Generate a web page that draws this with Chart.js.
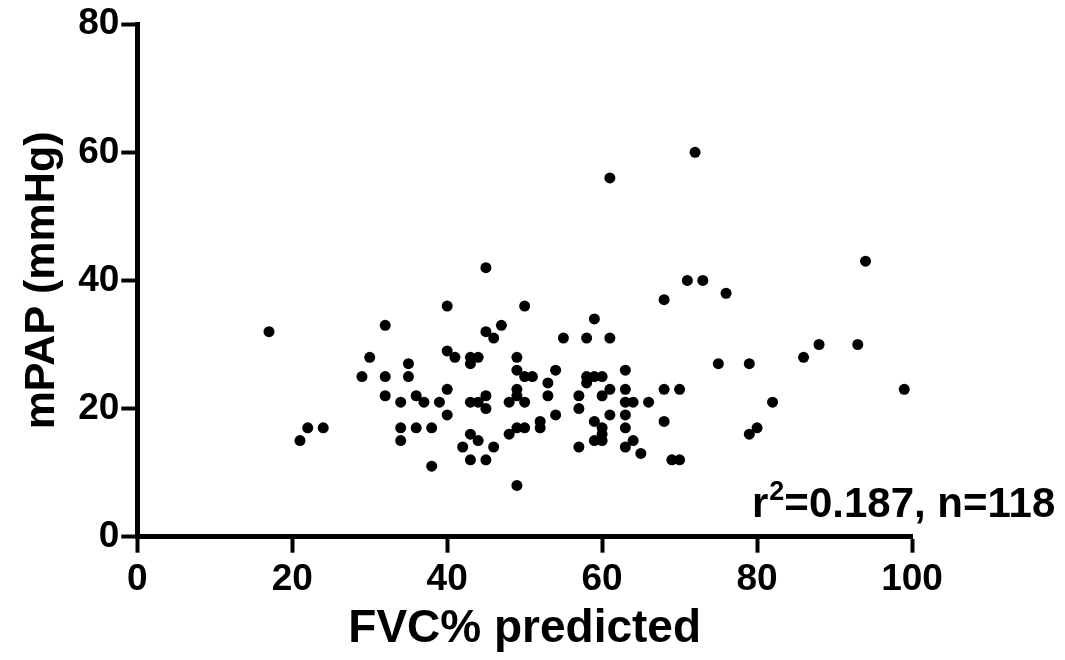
<!DOCTYPE html>
<html>
<head>
<meta charset="utf-8">
<script src="https://cdn.jsdelivr.net/npm/chart.js@4"></script>
<style>
  html, body { margin: 0; padding: 0; background: #ffffff; }
  #wrap { width: 1065px; height: 660px; }
</style>
</head>
<body>
<div id="wrap"><canvas id="c" width="1065" height="660"></canvas></div>
<script>
// FVC% predicted (x) and mPAP in mmHg (y)
const fvcPredicted = [
  17, 32, 40, 40, 30, 35, 29, 32, 35, 40, 32, 34, 36, 37, 39, 40, 22, 24, 21, 34, 36, 38, 34, 38,
  45, 50, 59, 47, 45, 46, 55, 58, 61, 41, 43, 44, 43, 49, 49, 50, 51, 54, 53, 53, 58, 59, 60, 58,
  61, 60, 57, 57, 63, 63, 63, 64, 63, 63, 63, 64, 65, 45, 43, 44, 45, 49, 49, 48, 50, 54, 52, 52,
  50, 49, 48, 43, 44, 42, 46, 43, 45, 49, 59, 60, 60, 59, 60, 57, 61,
  61, 72, 94, 88, 86, 93, 99,
  71, 73, 68, 76, 75, 79, 68, 70, 66, 82, 68, 80, 79, 69, 70
];
const mPAP = [
  32, 33, 36, 29, 28, 27, 25, 25, 25, 23, 22, 21, 22, 21, 21, 19, 17, 17, 15, 17, 17, 17, 15, 11,
  42, 36, 34, 33, 32, 31, 31, 31, 31, 28, 28, 28, 27, 28, 26, 25, 25, 26, 24, 22, 25, 25, 25, 24,
  23, 22, 22, 20, 26, 23, 21, 21, 19, 17, 14, 15, 13, 22, 21, 21, 20, 23, 22, 21, 21, 19, 18, 17,
  17, 17, 16, 16, 15, 14, 14, 12, 12, 8, 18, 17, 16, 15, 15, 14, 19,
  56, 60, 43, 30, 28, 30, 23,
  40, 40, 37, 38, 27, 27, 23, 23, 21, 21, 18, 17, 16, 12, 12
];
const xTickValues = [0, 20, 40, 60, 80, 100];
const yTickValues = [0, 20, 40, 60, 80];
const xTitle = 'FVC% predicted';
const yTitle = 'mPAP (mmHg)';
const statText = ['r', '2', '=0.187, n=118'];

const FONT = "'Liberation Sans', Arial, Helvetica, sans-serif";
const points = fvcPredicted.map((x, i) => ({ x: x, y: mPAP[i] }));

const statPlugin = {
  id: 'stat',
  afterDraw(chart) {
    const ctx = chart.ctx;
    const a = chart.chartArea;
    ctx.save();
    ctx.fillStyle = '#000';
    ctx.textBaseline = 'alphabetic';
    ctx.textAlign = 'left';
    let x = a.right - 160;
    const y = a.bottom - 20;
    ctx.font = 'bold 42px ' + FONT;
    ctx.fillText(statText[0], x, y);
    x += ctx.measureText(statText[0]).width;
    ctx.font = 'bold 27px ' + FONT;
    ctx.fillText(statText[1], x + 1, y - 17);
    x += ctx.measureText(statText[1]).width + 1;
    ctx.font = 'bold 42px ' + FONT;
    ctx.fillText(statText[2], x, y);
    ctx.restore();
  }
};

new Chart(document.getElementById('c'), {
  type: 'scatter',
  data: {
    datasets: [{
      data: points,
      backgroundColor: '#000',
      borderColor: '#000',
      pointRadius: 5.5,
      pointHoverRadius: 5.5,
      borderWidth: 0
    }]
  },
  options: {
    responsive: false,
    animation: false,
    events: [],
    layout: { padding: { left: 0, top: 24, right: 153, bottom: 0 } },
    plugins: { legend: { display: false }, tooltip: { enabled: false } },
    scales: {
      x: {
        type: 'linear',
        min: 0, max: 100,
        afterBuildTicks: (s) => { s.ticks = xTickValues.map(v => ({ value: v })); },
        afterFit: (s) => { s.height = 123.3; },
        border: { display: true, color: '#000', width: 5 },
        grid: { display: true, drawOnChartArea: false, drawTicks: true, tickLength: 16, tickWidth: 4, tickColor: '#000', color: '#000' },
        ticks: { color: '#000', padding: 5, maxRotation: 0, font: { family: FONT, size: 37, weight: 'bold' } },
        title: { display: true, text: xTitle, color: '#000', padding: { top: 0, bottom: 3 }, font: { family: FONT, size: 46, weight: 'bold' } }
      },
      y: {
        type: 'linear',
        min: 0, max: 80,
        afterBuildTicks: (s) => { s.ticks = yTickValues.map(v => ({ value: v })); },
        afterFit: (s) => { s.width = 137.3; },
        border: { display: true, color: '#000', width: 5 },
        grid: { display: true, drawOnChartArea: false, drawTicks: true, tickLength: 16, tickWidth: 4, tickColor: '#000', color: '#000' },
        ticks: { color: '#000', padding: 2, font: { family: FONT, size: 37, weight: 'bold' } },
        title: { display: true, text: yTitle, color: '#000', padding: { top: 16, bottom: 0 }, font: { family: FONT, size: 43, weight: 'bold' } }
      }
    }
  },
  plugins: [statPlugin]
});
</script>
</body>
</html>
